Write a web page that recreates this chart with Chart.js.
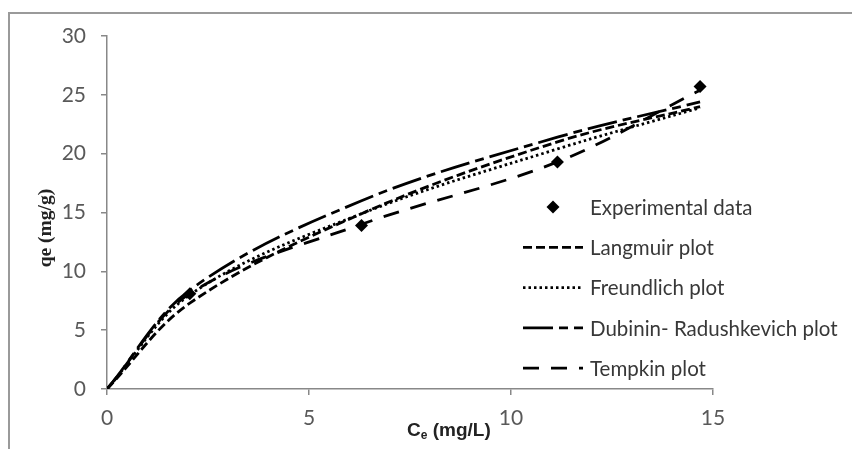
<!DOCTYPE html>
<html><head><meta charset="utf-8">
<script src="https://cdn.jsdelivr.net/npm/chart.js@4/dist/chart.umd.min.js"></script>
<style>html,body{margin:0;padding:0;background:#fff;} #wrap{position:relative;width:852px;height:449px;} canvas{display:block;}</style>
</head><body><div id="wrap"><canvas id="c" width="852" height="449"></canvas></div>
<script>
// ---- data ----
const ceValues     = [2.05, 6.3, 11.15, 14.68];
const experimental = [8.1, 13.9, 19.3, 25.7];
const modelCe      = [0, 2.05, 6.3, 11.15, 14.68];
const langmuir     = [0, 7.3, 14.9, 21.0, 24.0];
const freundlich   = [0, 8.0, 14.9, 20.4, 23.9];
const dubinin      = [0, 8.4, 16.0, 21.4, 24.4];
const tempkin      = [0, 8.1, 14.0, 19.3, 25.4];
const seriesNames  = ['Experimental data', 'Langmuir plot', 'Freundlich plot', 'Dubinin- Radushkevich plot', 'Tempkin plot'];
const xTicks = [0, 5, 10, 15];
const yTicks = [0, 5, 10, 15, 20, 25, 30];
const yTitle = 'qe (mg/g)';
const xTitleMain = 'C', xTitleSub = 'e', xTitleRest = ' (mg/L)';

const pts = (xs, ys) => xs.map((x, i) => ({x: x, y: ys[i]}));

const lineDs = (label, ys, dash) => ({
  label: label, data: pts(modelCe, ys), showLine: true, borderColor: '#000', backgroundColor: '#000',
  borderWidth: 2.8, borderDash: dash, pointRadius: 0, tension: 0.35, borderCapStyle: 'butt'
});

const overlay = {
  id: 'overlay',
  afterDraw(chart) {
    const ctx = chart.ctx;
    ctx.save();
    // outer frame
    ctx.strokeStyle = '#9a9a9a'; ctx.lineWidth = 2; ctx.setLineDash([]);
    ctx.beginPath(); ctx.moveTo(9, 449); ctx.lineTo(9, 13); ctx.lineTo(852, 13); ctx.stroke();
    // y title
    ctx.save();
    ctx.translate(46, 228); ctx.rotate(-Math.PI / 2);
    ctx.font = 'bold 19.5px "Liberation Serif"'; ctx.fillStyle = '#222';
    ctx.textAlign = 'center'; ctx.textBaseline = 'middle';
    ctx.fillText(yTitle, 0, 0);
    ctx.restore();
    // x title
    ctx.fillStyle = '#222'; ctx.textBaseline = 'alphabetic'; ctx.textAlign = 'left';
    let x = 407; const base = 436;
    ctx.font = 'bold 19px "Liberation Sans"';
    ctx.fillText(xTitleMain, x, base); x += ctx.measureText(xTitleMain).width;
    ctx.font = 'bold 12px "Liberation Sans"';
    ctx.fillText(xTitleSub, x, base + 3); x += ctx.measureText(xTitleSub).width;
    ctx.font = 'bold 19px "Liberation Sans"';
    ctx.fillText(xTitleRest, x, base);
    // legend
    const ds = chart.data.datasets;
    ctx.font = '20.5px Lato'; ctx.textBaseline = 'middle';
    ds.forEach((d, i) => {
      const y = 207 + i * 40.3;
      if (i === 0) {
        ctx.fillStyle = '#000';
        ctx.beginPath(); ctx.moveTo(553 - 6.5, y); ctx.lineTo(553, y - 6.5); ctx.lineTo(553 + 6.5, y); ctx.lineTo(553, y + 6.5); ctx.closePath(); ctx.fill();
      } else {
        ctx.strokeStyle = '#000'; ctx.lineWidth = d.borderWidth; ctx.setLineDash(d.borderDash);
        ctx.beginPath(); ctx.moveTo(523, y); ctx.lineTo(583, y); ctx.stroke();
        ctx.setLineDash([]);
      }
      ctx.fillStyle = '#383838';
      ctx.fillText(d.label, 590, y + 1);
    });
    ctx.restore();
  }
};

new Chart(document.getElementById('c'), {
  type: 'scatter',
  data: {
    datasets: [
      {label: seriesNames[0], data: pts(ceValues, experimental), pointStyle: 'rectRot', pointRadius: 6.5,
       backgroundColor: '#000', borderColor: '#000', borderWidth: 0, showLine: false},
      lineDs(seriesNames[1], langmuir, [9, 4]),
      lineDs(seriesNames[2], freundlich, [2.5, 3]),
      lineDs(seriesNames[3], dubinin, [30, 6, 9, 6]),
      lineDs(seriesNames[4], tempkin, [16, 12])
    ]
  },
  options: {
    responsive: false, animation: false, devicePixelRatio: 1,
    layout: {padding: {left: 0, right: 139, top: 36, bottom: 0}},
    plugins: {legend: {display: false}, tooltip: {enabled: false}},
    scales: {
      x: {
        type: 'linear', min: xTicks[0], max: xTicks[xTicks.length - 1],
        afterBuildTicks: s => { s.ticks = xTicks.map(v => ({value: v})); },
        afterFit: s => { s.height = 60; },
        grid: {drawOnChartArea: false, drawTicks: true, tickLength: 6, color: '#888', lineWidth: 1.5},
        border: {color: '#888', width: 1.5},
        ticks: {font: {family: 'Lato', size: 21}, color: '#595959', padding: 11, maxRotation: 0}
      },
      y: {
        type: 'linear', min: yTicks[0], max: yTicks[yTicks.length - 1],
        afterBuildTicks: s => { s.ticks = yTicks.map(v => ({value: v})); },
        afterFit: s => { s.width = 107; },
        grid: {drawOnChartArea: false, drawTicks: true, tickLength: 6, color: '#888', lineWidth: 1.5},
        border: {color: '#888', width: 1.5},
        ticks: {font: {family: 'Lato', size: 21}, color: '#595959', padding: 15}
      }
    }
  },
  plugins: [overlay]
});
</script>
</body></html>
